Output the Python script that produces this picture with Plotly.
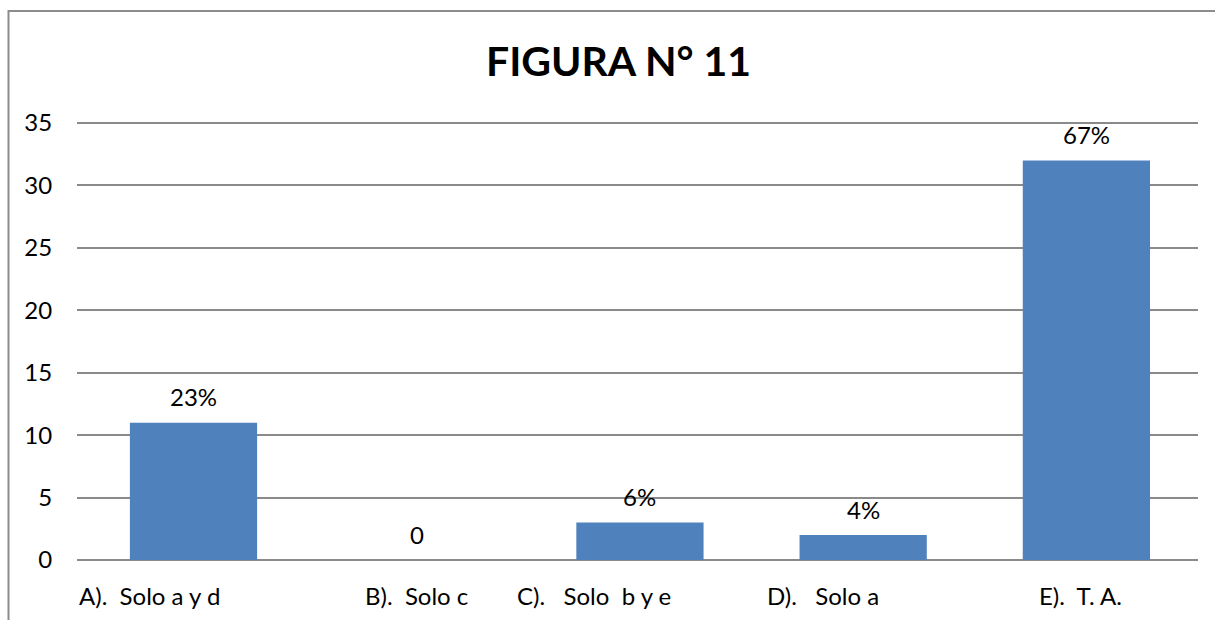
import plotly.graph_objects as go

categories = ["A).  Solo a y d", "B).  Solo c", "C).   Solo  b y e", "D).   Solo a", "E).  T. A."]
values = [11, 0, 3, 2, 32]
value_labels = ["23%", "0", "6%", "4%", "67%"]
y_ticks = [0, 5, 10, 15, 20, 25, 30, 35]
title_text = "FIGURA N° 11"

# horizontal offsets of the category labels (pixels), as in the original layout
label_shift = [-44, 0, -46, -40, -6]

FONT = "Lato, Calibri, Carlito, sans-serif"
TXT = 24
W, H = 1215, 620
L, R, T, B = 77, 17, 120, 60
Y_TOP = 35 * 440 / 437  # keeps the 35 gridline inside the plot area

fig = go.Figure()
fig.add_trace(go.Bar(
    x=categories, y=values,
    marker=dict(color="#4F81BD", line=dict(width=0)),
    hoverinfo="x+y",
))

for c, v, t in zip(categories, values, value_labels):
    fig.add_annotation(x=c, y=v, xref="x", yref="y", text=t, showarrow=False,
                       yanchor="middle", yshift=26,
                       font=dict(family=FONT, size=TXT, color="#000000"))

for c, s in zip(categories, label_shift):
    fig.add_annotation(x=c, y=0, xref="x", yref="paper", text=c.replace(" ", "\u00a0"),
                       showarrow=False, yanchor="middle", yshift=-35, xshift=s,
                       font=dict(family=FONT, size=TXT, color="#000000"))

plot_h = H - T - B
plot_w = W - L - R
# outer chart frame: left and top edges visible, right and bottom edges beyond the picture
fig.add_shape(type="rect", xref="paper", yref="paper",
              x0=(8.5 - L) / plot_w, x1=1.5,
              y0=-0.6, y1=(H - B - 11) / plot_h,
              line=dict(color="#8c8c8c", width=2), fillcolor="rgba(0,0,0,0)", layer="below")

fig.update_layout(
    width=W, height=H,
    margin=dict(l=L, r=R, t=T, b=B),
    paper_bgcolor="white", plot_bgcolor="white",
    bargap=0.43,
    showlegend=False,
    title=dict(text="<b>" + title_text + "</b>", x=618.5 / W, xanchor="center",
               y=(H - 62) / H, yanchor="middle", xref="container", yref="container",
               font=dict(family=FONT, size=41, color="#000000")),
    font=dict(family=FONT, size=TXT, color="#000000"),
)
fig.update_xaxes(showticklabels=False, showgrid=False, showline=False, zeroline=False, ticks="")
fig.update_yaxes(range=[0, Y_TOP], tickvals=y_ticks, showgrid=True, gridcolor="#8a8a8a", gridwidth=1.5,
                 zeroline=True, zerolinecolor="#8a8a8a", zerolinewidth=1.5,
                 showline=False, ticks="outside", ticklen=19, tickcolor="rgba(0,0,0,0)",
                 tickfont=dict(family=FONT, size=TXT, color="#000000"))

fig.write_html("out.html", config={"displayModeBar": False},
               post_script="document.body.style.margin='0';document.body.style.overflow='hidden';")
